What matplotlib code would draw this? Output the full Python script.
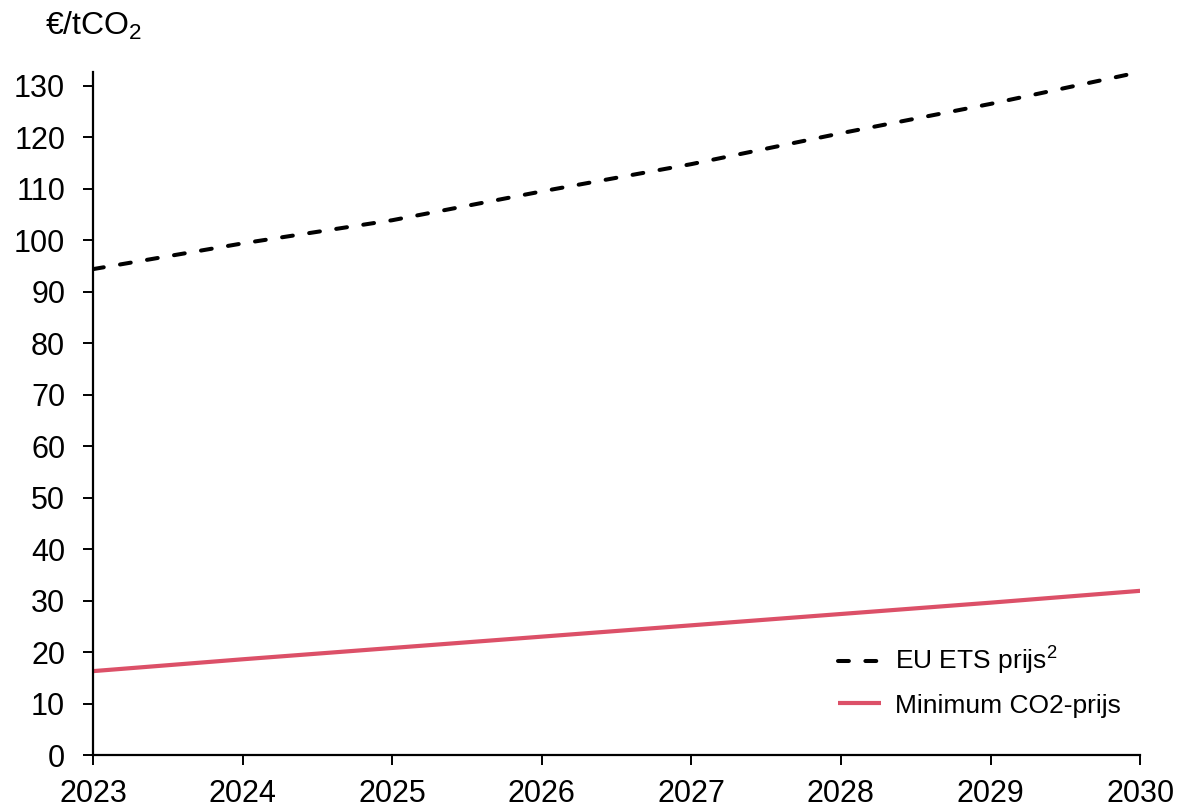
import matplotlib
matplotlib.use("Agg")
import matplotlib.pyplot as plt

years = [2023, 2024, 2025, 2026, 2027, 2028, 2029, 2030]
eu_ets = [94.4, 99.4, 103.9, 109.5, 114.8, 120.8, 126.5, 132.7]
min_co2 = [16.3, 18.6, 20.8, 23.0, 25.2, 27.4, 29.6, 31.9]
y_ticks = list(range(0, 131, 10))

plt.rcParams['font.family'] = ['Liberation Sans', 'DejaVu Sans']
plt.rcParams['mathtext.fontset'] = 'custom'
plt.rcParams['mathtext.rm'] = 'Liberation Sans'
plt.rcParams['mathtext.it'] = 'Liberation Sans'

fig = plt.figure(figsize=(11.79, 8.07), dpi=100)
ax = fig.add_axes([0.0789, 0.0644, 0.967 - 0.0789, 0.9108 - 0.0644])

ax.plot(years, eu_ets, color='black', lw=2.9, linestyle=(0, (2.7, 4.1)),
        dash_capstyle='round', label=r'EU ETS prijs$^{2}$')
ax.plot(years, min_co2, color='#dc5068', lw=3.0, solid_capstyle='butt',
        label='Minimum CO2-prijs')

ax.set_xlim(2023, 2030)
ax.set_ylim(0, 132.7)
ax.set_xticks(years)
ax.set_xticklabels([str(y) for y in years])
ax.set_yticks(y_ticks)

for s in ['top', 'right']:
    ax.spines[s].set_visible(False)
for s in ['left', 'bottom']:
    ax.spines[s].set_linewidth(1.6)
ax.tick_params(axis='both', direction='out', length=7, width=1.4,
               labelsize=22, colors='black')
ax.tick_params(axis='x', pad=10)
ax.tick_params(axis='y', pad=13)

fig.text(0.038, 1 - 35 / 807, r'€/tCO$_2$', fontsize=23, ha='left', va='baseline')

leg = ax.legend(loc='lower right', bbox_to_anchor=(1.004, 0.02), frameon=False,
                fontsize=19, handlelength=1.65, handletextpad=0.5,
                labelspacing=0.62)

fig.savefig('out.png', dpi=100)
